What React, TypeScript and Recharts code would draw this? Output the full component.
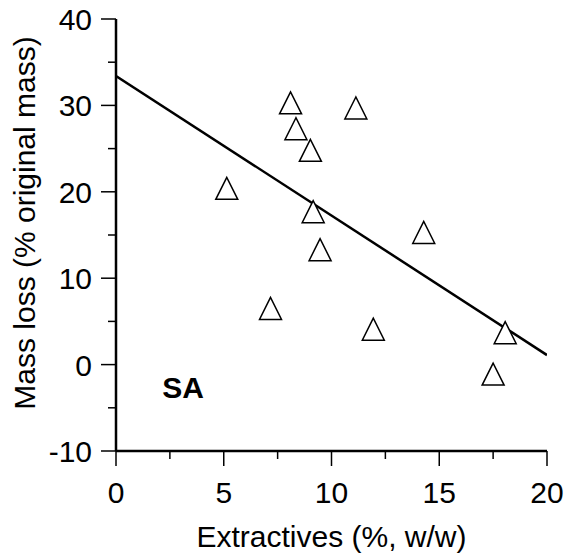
import { ComposedChart, Scatter, XAxis, YAxis, Label, ReferenceDot } from 'recharts';

document.body.style.margin = '0';

const extractives = [8.1, 11.13, 8.35, 9.02, 5.14, 9.15, 9.47, 14.28, 7.17, 11.94, 18.06, 17.5];
const massLoss = [30.3, 29.7, 27.3, 24.8, 20.4, 17.7, 13.3, 15.3, 6.5, 4.1, 3.7, -1.1];

const fitX = [0, 20];
const fitY = [33.4, 1.1];

const xTicks = [0, 2.5, 5, 7.5, 10, 12.5, 15, 17.5, 20];
const yTicks = [-10, -5, 0, 5, 10, 15, 20, 25, 30, 35, 40];
const xMajor = [0, 5, 10, 15, 20];
const yMajor = [-10, 0, 10, 20, 30, 40];

const points = extractives.map((x, i) => ({ x, y: massLoss[i] }));
const fitLine = fitX.map((x, i) => ({ x, y: fitY[i] }));

const FONT = '"Liberation Sans", Arial, sans-serif';

const Triangle = (props: any) => {
  const { cx, cy } = props;
  const h = 11;
  return (
    <polygon
      points={`${cx},${cy - h} ${cx - h},${cy + h} ${cx + h},${cy + h}`}
      fill="#fff"
      stroke="#000"
      strokeWidth={1.5}
    />
  );
};

const XTick = ({ x, y, payload }: any) => {
  const major = xMajor.includes(payload.value);
  return (
    <g>
      <line x1={x} y1={y} x2={x} y2={y + (major ? 15 : 8)} stroke="#000" strokeWidth={1.5} />
      {major && (
        <text x={x} y={y + 52} textAnchor="middle" fontSize={30} fontFamily={FONT} fill="#000">
          {payload.value}
        </text>
      )}
    </g>
  );
};

const YTick = ({ x, y, payload }: any) => {
  const major = yMajor.includes(payload.value);
  return (
    <g>
      <line x1={x} y1={y} x2={x - (major ? 15 : 8)} y2={y} stroke="#000" strokeWidth={1.5} />
      {major && (
        <text x={x - 24} y={y + 11} textAnchor="end" fontSize={30} fontFamily={FONT} fill="#000">
          {payload.value}
        </text>
      )}
    </g>
  );
};

export default function App() {
  return (
    <div style={{ width: 565, height: 558, background: '#fff' }}>
      <ComposedChart width={565} height={558} margin={{ top: 19, right: 18, bottom: 0, left: 0 }}>
        <XAxis
          type="number"
          dataKey="x"
          domain={[0, 20]}
          ticks={xTicks}
          interval={0}
          allowDataOverflow
          height={107}
          tickSize={0}
          tickMargin={0}
          tickLine={false}
          axisLine={{ stroke: '#000', strokeWidth: 2.5 }}
          tick={<XTick />}
        >
          <Label
            content={({ viewBox }: any) => (
              <text
                x={viewBox.x + viewBox.width / 2}
                y={viewBox.y + 96}
                textAnchor="middle"
                fontSize={30}
                fontFamily={FONT}
                fill="#000"
              >
                Extractives (%, w/w)
              </text>
            )}
          />
        </XAxis>
        <YAxis
          type="number"
          dataKey="y"
          domain={[-10, 40]}
          ticks={yTicks}
          interval={0}
          allowDataOverflow
          width={116}
          tickSize={0}
          tickMargin={0}
          tickLine={false}
          axisLine={{ stroke: '#000', strokeWidth: 2.5 }}
          tick={<YTick />}
        >
          <Label
            content={() => {
              const cx = 35;
              const cy = 223;
              return (
                <text
                  x={cx}
                  y={cy}
                  transform={`rotate(-90, ${cx}, ${cy})`}
                  textAnchor="middle"
                  fontSize={30}
                  fontFamily={FONT}
                  fill="#000"
                >
                  Mass loss (% original mass)
                </text>
              );
            }}
          />
        </YAxis>
        <Scatter
          data={fitLine}
          line={{ stroke: '#000', strokeWidth: 2.5 }}
          shape={() => <g />}
          isAnimationActive={false}
        />
        <Scatter data={points} shape={<Triangle />} isAnimationActive={false} />
        <ReferenceDot
          x={2.15}
          y={-3.9}
          r={0}
          fill="none"
          stroke="none"
          label={({ viewBox }: any) => (
            <text
              x={viewBox.x}
              y={viewBox.y}
              fontSize={30}
              fontWeight="bold"
              fontFamily={FONT}
              fill="#000"
            >
              SA
            </text>
          )}
        />
      </ComposedChart>
    </div>
  );
}
